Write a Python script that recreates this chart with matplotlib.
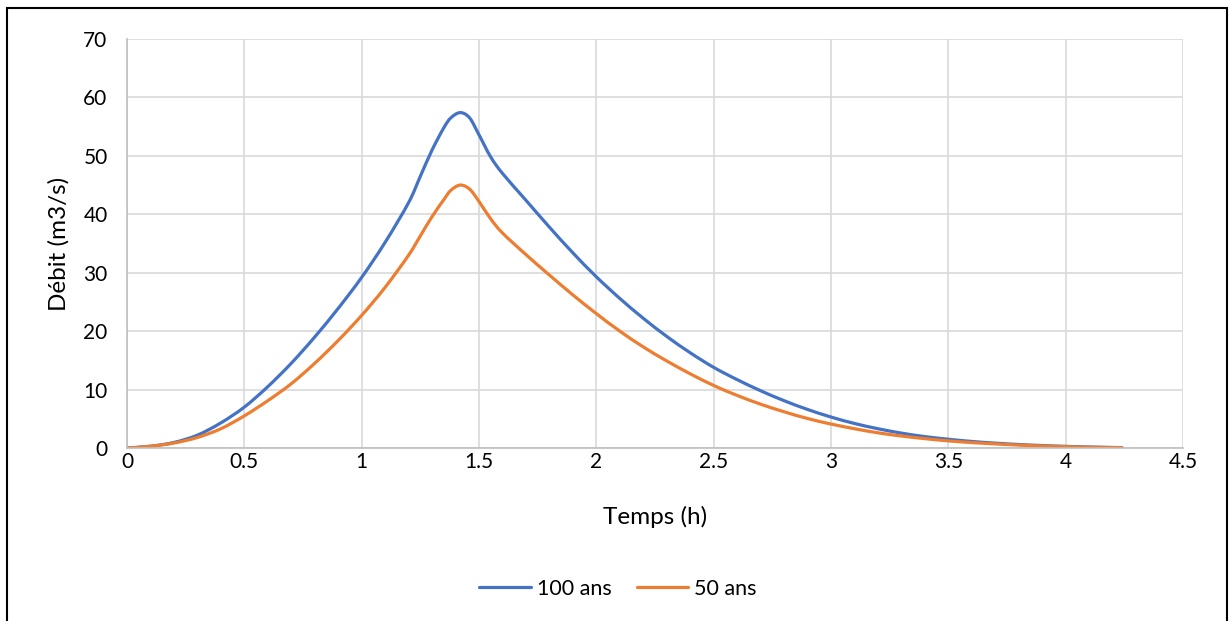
import matplotlib
matplotlib.use("Agg")
import numpy as np
import matplotlib.pyplot as plt
from matplotlib.patches import Rectangle, PathPatch
from matplotlib.path import Path
from matplotlib.lines import Line2D

# Hydrogrammes de crue : débit en fonction du temps
temps = [0, 0.1, 0.2, 0.3, 0.4, 0.5, 0.6, 0.7, 0.8, 0.9, 1.0, 1.1, 1.2,
         1.25, 1.3, 1.35, 1.38, 1.42, 1.46, 1.5, 1.55, 1.6, 1.7, 1.8, 1.9,
         2.0, 2.1, 2.2, 2.3, 2.4, 2.5, 2.6, 2.7, 2.8, 2.9, 3.0, 3.1, 3.2,
         3.3, 3.4, 3.5, 3.6, 3.7, 3.8, 3.9, 4.0, 4.1, 4.2, 4.24]

q100 = [0, 0.3, 0.95, 2.2, 4.3, 7.0, 10.5, 14.5, 19.0, 23.9, 29.2, 35.2, 42.0,
        46.5, 51.0, 54.8, 56.5, 57.4, 56.5, 53.6, 49.8, 47.0, 42.4, 37.8, 33.4,
        29.3, 25.6, 22.2, 19.1, 16.3, 13.8, 11.7, 9.8, 8.1, 6.6, 5.3, 4.2, 3.3,
        2.55, 1.95, 1.5, 1.12, 0.83, 0.6, 0.42, 0.28, 0.17, 0.09, 0.07]

q50 = [0, 0.3, 0.85, 1.8, 3.3, 5.5, 8.1, 11.0, 14.5, 18.4, 22.7, 27.5, 33.0,
       36.3, 39.6, 42.5, 44.1, 45.0, 44.3, 42.2, 39.2, 36.8, 33.1, 29.6, 26.2,
       23.0, 20.0, 17.3, 14.9, 12.7, 10.7, 9.0, 7.5, 6.2, 5.05, 4.1, 3.3, 2.6,
       2.05, 1.6, 1.22, 0.93, 0.7, 0.5, 0.35, 0.23, 0.14, 0.07, 0.05]

series = [("100 ans", q100, "#4472C4"), ("50 ans", q50, "#ED7D31")]


def courbe_lissee(x, y):
    """chemin de Bézier passant par les points (lissage type Catmull-Rom)"""
    p = np.column_stack([x, y]).astype(float)
    sommets = [p[0]]
    codes = [Path.MOVETO]
    n = len(p)
    for i in range(n - 1):
        p0 = p[i - 1] if i > 0 else p[i]
        p3 = p[i + 2] if i + 2 < n else p[i + 1]
        c1 = p[i] + (p[i + 1] - p0) / 6
        c2 = p[i + 1] - (p3 - p[i]) / 6
        sommets += [c1, c2, p[i + 1]]
        codes += [Path.CURVE4] * 3
    return Path(sommets, codes)


plt.rcParams['font.family'] = ['Lato', 'DejaVu Sans']

fig = plt.figure(figsize=(12.29, 6.21), dpi=100)
ax = fig.add_axes([127 / 1229, 1 - 448 / 621, 1056 / 1229, 409 / 621])

poignees = []
for nom, q, couleur in series:
    ax.add_patch(PathPatch(courbe_lissee(temps, q), fill=False,
                           edgecolor=couleur, lw=2.3, capstyle='round',
                           joinstyle='round'))
    poignees.append(Line2D([], [], color=couleur, lw=2.3,
                           solid_capstyle='round', label=nom))

ax.set_xlim(0, 4.5)
ax.set_ylim(0, 70)
ax.set_xticks([0, 0.5, 1, 1.5, 2, 2.5, 3, 3.5, 4, 4.5])
ax.set_xticklabels(["0", "0.5", "1", "1.5", "2", "2.5", "3", "3.5", "4", "4.5"])
ax.set_yticks(range(0, 71, 10))
ax.grid(True, color="#d9d9d9", lw=1.2)
ax.set_axisbelow(True)
for s in ["top", "right"]:
    ax.spines[s].set_visible(False)
for s in ["left", "bottom"]:
    ax.spines[s].set_color("#bfbfbf")
    ax.spines[s].set_linewidth(1.2)
ax.tick_params(axis="both", length=0, labelsize=15, colors="black")
ax.tick_params(axis="y", pad=14)
ax.tick_params(axis="x", pad=3)

ax.set_xlabel("Temps (h)", fontsize=17.5, labelpad=24)
ax.set_ylabel("Débit (m3/s)", fontsize=17.5, labelpad=10)

fig.legend(handles=poignees, loc="center",
           bbox_to_anchor=(0.503, 1 - 589 / 621), ncol=2, frameon=False,
           fontsize=15.5, handlelength=2.4, columnspacing=1.15,
           handletextpad=0.28)

# cadre autour du graphique
fig.add_artist(Rectangle((7 / 1229, -0.05), 1220 / 1229, 1.05 - 8 / 621,
                         transform=fig.transFigure, fill=False,
                         edgecolor="black", lw=1.5))

fig.savefig("out.png", dpi=100)
